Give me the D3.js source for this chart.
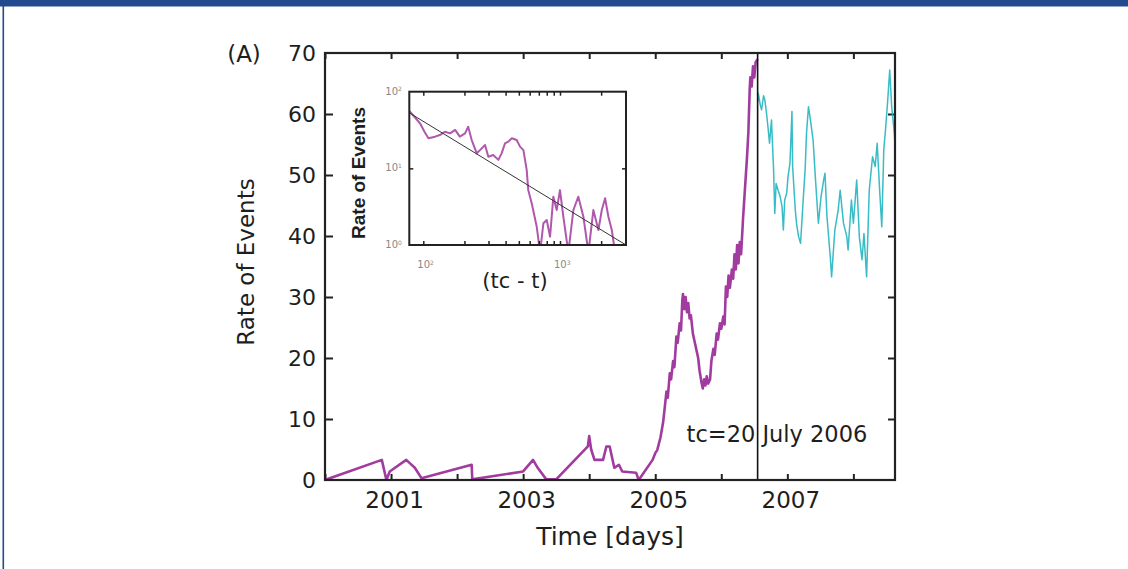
<!DOCTYPE html>
<html>
<head>
<meta charset="utf-8">
<script src="https://cdn.jsdelivr.net/npm/d3@7"></script>
<style>
  body { margin: 0; background: #fff; }
  svg text { font-family: "DejaVu Sans", sans-serif; fill: #1e1e1e; }
</style>
</head>
<body>
<div id="vis"></div>
<script>
/* data */
// main panel: [year, rate of events]
var beforeTc = [
  [2000.00, 0], [2000.86, 3.3], [2000.93, 0], [2000.98, 1.4], [2001.23, 3.3], [2001.30, 2.6],
  [2001.36, 2.0], [2001.46, 0.3], [2002.22, 2.5], [2002.23, 0.1], [2003.00, 1.4], [2003.15, 3.3],
  [2003.22, 2.0], [2003.35, 0.1], [2003.50, 0.1], [2003.98, 5.5], [2004.00, 7.2], [2004.03, 5.0],
  [2004.08, 3.3], [2004.21, 3.3], [2004.26, 5.5], [2004.31, 5.5], [2004.38, 2.0], [2004.45, 2.5],
  [2004.50, 1.4], [2004.71, 1.2], [2004.75, 0], [2004.96, 3.3], [2005.00, 4.4], [2005.03, 4.9],
  [2005.08, 7.0], [2005.12, 9.5], [2005.15, 12.5], [2005.17, 14.5], [2005.19, 13.5], [2005.22, 17.5],
  [2005.24, 16.5], [2005.27, 19.5], [2005.29, 18.5], [2005.32, 23.5], [2005.34, 22.5], [2005.37, 25.7],
  [2005.39, 24.5], [2005.41, 29.5], [2005.42, 30.5], [2005.44, 28.0], [2005.46, 30.0], [2005.48, 27.5],
  [2005.50, 29.0], [2005.52, 26.5], [2005.54, 27.0], [2005.57, 24.0], [2005.60, 22.5], [2005.62, 21.5],
  [2005.65, 20.0], [2005.67, 18.0], [2005.70, 16.0], [2005.72, 15.0], [2005.74, 16.5], [2005.76, 15.5],
  [2005.78, 17.0], [2005.80, 15.8], [2005.83, 16.5], [2005.85, 19.5], [2005.88, 21.5], [2005.90, 20.5],
  [2005.93, 24.0], [2005.95, 23.0], [2005.98, 25.7], [2006.00, 24.8], [2006.03, 26.8], [2006.05, 25.5],
  [2006.07, 31.7], [2006.09, 30.0], [2006.11, 33.5], [2006.13, 31.5], [2006.16, 34.5], [2006.18, 33.0],
  [2006.20, 37.0], [2006.22, 34.5], [2006.24, 38.5], [2006.26, 35.5], [2006.28, 39.0], [2006.30, 37.0],
  [2006.33, 43.0], [2006.36, 48.0], [2006.39, 53.0], [2006.41, 57.0], [2006.43, 64.0], [2006.44, 66.0],
  [2006.46, 64.5], [2006.48, 67.8], [2006.50, 66.0], [2006.52, 68.5], [2006.55, 69.0]
];
var afterTc = [
  [2006.55, 62.0], [2006.56, 63.4], [2006.59, 61.5], [2006.61, 60.7], [2006.64, 63.0], [2006.66, 62.3],
  [2006.69, 59.6], [2006.71, 57.5], [2006.73, 55.2], [2006.76, 59.0], [2006.79, 51.4], [2006.81, 43.7],
  [2006.83, 48.6], [2006.86, 47.5], [2006.89, 46.5], [2006.92, 44.8], [2006.94, 41.0], [2006.96, 45.9],
  [2006.99, 47.0], [2007.01, 49.7], [2007.04, 52.0], [2007.07, 60.4], [2007.08, 51.4], [2007.12, 44.3],
  [2007.14, 42.0], [2007.17, 39.9], [2007.20, 38.8], [2007.24, 45.9], [2007.27, 51.0], [2007.29, 56.8],
  [2007.32, 61.2], [2007.35, 59.0], [2007.39, 55.7], [2007.43, 48.6], [2007.47, 42.1], [2007.51, 46.4],
  [2007.55, 49.2], [2007.57, 50.3], [2007.60, 43.2], [2007.65, 36.6], [2007.67, 33.3], [2007.70, 38.0],
  [2007.72, 41.0], [2007.77, 44.3], [2007.80, 47.5], [2007.85, 42.1], [2007.90, 39.9], [2007.92, 37.7],
  [2007.97, 45.9], [2008.00, 42.1], [2008.05, 49.2], [2008.09, 39.9], [2008.13, 36.1], [2008.16, 40.4],
  [2008.20, 33.3], [2008.24, 47.5], [2008.29, 53.0], [2008.33, 51.4], [2008.36, 55.2], [2008.40, 47.0],
  [2008.43, 41.5], [2008.46, 54.1], [2008.49, 57.9], [2008.52, 62.3], [2008.55, 67.2], [2008.58, 61.2],
  [2008.62, 56.8], [2008.63, 55.0]
];
var tcYear = 2006.55;
var yearTicks = [2000, 2001, 2002, 2003, 2004, 2005, 2006, 2007, 2008];
var rateTicks = [0, 10, 20, 30, 40, 50, 60, 70];

// inset: [tc - t (days), rate]
var insetSeries = [
  [79, 56], [82, 52], [88, 45], [94.6, 38.7], [102, 30], [109, 24.7], [122, 25.9], [132, 27.2],
  [144, 30], [157, 28.6], [171, 31.7], [185, 25.9], [202, 28.6], [213, 34.9], [226, 23.4],
  [246, 15.7], [260, 17.3], [283, 20.2], [299, 14.2], [325, 14.9], [354, 12.9], [374, 15.7],
  [396, 21.2], [419, 22.3], [444, 24.7], [482, 23.4], [510, 19.2], [540, 17.3], [571, 9.5],
  [586, 5.2], [621, 3.5], [676, 1.73], [715, 0.8], [756, 1.92], [800, 2.12], [846, 1.28],
  [894, 4.27], [946, 2.86], [1000, 5.2], [1058, 2.34], [1151, 0.8], [1253, 2.86], [1362, 4.27],
  [1483, 2.34], [1614, 0.8], [1754, 2.86], [1910, 1.57], [2022, 2.86], [2138, 4.07], [2260, 2.34],
  [2393, 1.57], [2530, 0.8]
];
var insetFit = [[79, 53], [3040, 1]];
var insetXTicks = [100, 200, 300, 400, 500, 600, 700, 800, 900, 1000, 2000, 3000];
var insetXLabels = [[100, "2"], [1000, "3"]];
var insetYLabels = [[100, "2"], [10, "1"], [1, "0"]];

/* Set up */
var W = 1128, H = 569;
var plot = {left: 325, right: 895, top: 53, bottom: 480};
var box = {left: 409.3, right: 626, top: 91.7, bottom: 245};
var purple = "#a23b9f", cyan = "#22b5bf", ink = "#222";

var svg = d3.select("#vis").append("svg").attr("width", W).attr("height", H);

// blue page frame
svg.append("rect").attr("x", 0).attr("y", 0).attr("width", W).attr("height", 6.5).attr("fill", "#234a8f");
svg.append("rect").attr("x", 2.5).attr("y", 0).attr("width", 1.6).attr("height", H).attr("fill", "#234a8f");

/* Scales */
var x = d3.scaleLinear().domain([2000, 2008.63]).range([plot.left, plot.right]);
var y = d3.scaleLinear().domain([0, 70]).range([plot.bottom, plot.top]);

var defs = svg.append("defs");
defs.append("clipPath").attr("id", "clipMain").append("rect")
    .attr("x", plot.left).attr("y", plot.top)
    .attr("width", plot.right - plot.left).attr("height", plot.bottom - plot.top);
defs.append("clipPath").attr("id", "clipInset").append("rect")
    .attr("x", box.left).attr("y", box.top)
    .attr("width", box.right - box.left).attr("height", box.bottom - box.top);

/* Axes */
function styleAxis(g) {
    g.select(".domain").remove();
    g.selectAll(".tick line").attr("stroke", ink).attr("stroke-width", 2);
    g.selectAll(".tick text").attr("fill", ink).style("font-family", "DejaVu Sans, sans-serif");
}
var fmtYear = function (d) { return d % 2 === 1 ? d : ""; };

svg.append("g").attr("transform", "translate(0," + plot.bottom + ")")
    .call(d3.axisBottom(x).tickValues(yearTicks).tickFormat(fmtYear).tickSize(-6).tickPadding(11.5))
    .call(styleAxis)
    .selectAll("text").style("font-size", "23px").attr("dx", "3");
svg.append("g").attr("transform", "translate(0," + plot.top + ")")
    .call(d3.axisTop(x).tickValues(yearTicks).tickFormat("").tickSize(-6))
    .call(styleAxis);
svg.append("g").attr("transform", "translate(" + plot.left + ",0)")
    .call(d3.axisLeft(y).tickValues(rateTicks.slice(1, 7)).tickFormat("").tickSize(-8))
    .call(styleAxis);
svg.append("g").attr("transform", "translate(" + plot.left + ",0)")
    .call(d3.axisLeft(y).tickValues(rateTicks).tickSize(0).tickPadding(9))
    .call(styleAxis)
    .selectAll("text").style("font-size", "22px");
svg.append("g").attr("transform", "translate(" + plot.right + ",0)")
    .call(d3.axisRight(y).tickValues(rateTicks.slice(1, 7)).tickFormat("").tickSize(-7))
    .call(styleAxis);

/* Series */
var line = d3.line().x(function (d) { return x(d[0]); }).y(function (d) { return y(d[1]); });

var gLines = svg.append("g").attr("clip-path", "url(#clipMain)");
gLines.append("path").datum(afterTc).attr("d", line)
    .attr("fill", "none").attr("stroke", cyan).attr("stroke-width", 1.5)
    .attr("stroke-opacity", 0.9).attr("stroke-linejoin", "round");
gLines.append("path").datum(beforeTc).attr("d", line)
    .attr("fill", "none").attr("stroke", purple).attr("stroke-width", 2.6)
    .attr("stroke-linejoin", "round");

// critical time
svg.append("line").attr("x1", x(tcYear)).attr("x2", x(tcYear))
    .attr("y1", plot.top).attr("y2", plot.bottom)
    .attr("stroke", "#111").attr("stroke-width", 1.6);

// frame
svg.append("rect").attr("x", plot.left).attr("y", plot.top)
    .attr("width", plot.right - plot.left).attr("height", plot.bottom - plot.top)
    .attr("fill", "none").attr("stroke", ink).attr("stroke-width", 2.2);

/* Labels */
svg.append("text").attr("x", x(tcYear) - 71).attr("y", 442)
    .style("font-size", "22.5px").text("tc=20 July 2006");
svg.append("text").attr("x", 610).attr("y", 545).attr("text-anchor", "middle")
    .style("font-size", "25px").text("Time [days]");
svg.append("text").attr("transform", "translate(254,262) rotate(-90)").attr("text-anchor", "middle")
    .style("font-size", "23px").text("Rate of Events");
svg.append("text").attr("x", 244).attr("y", 62).attr("text-anchor", "middle")
    .style("font-size", "23px").text("(A)");

/* Inset */
var ix = d3.scaleLog().domain([79, 3040]).range([box.left, box.right]);
var iy = d3.scaleLog().domain([1, 100]).range([box.bottom, box.top]);
var iline = d3.line().x(function (d) { return ix(d[0]); }).y(function (d) { return iy(d[1]); });

var inset = svg.append("g").attr("class", "inset");
inset.append("rect").attr("x", box.left).attr("y", box.top)
    .attr("width", box.right - box.left).attr("height", box.bottom - box.top).attr("fill", "#fff");

var gInset = inset.append("g").attr("clip-path", "url(#clipInset)");
gInset.append("path").datum(insetSeries).attr("d", iline)
    .attr("fill", "none").attr("stroke", purple).attr("stroke-width", 2).attr("stroke-opacity", 0.85)
    .attr("stroke-linejoin", "round");
gInset.append("path").datum(insetFit).attr("d", iline)
    .attr("fill", "none").attr("stroke", "#333").attr("stroke-width", 1);

function styleInset(g) {
    g.select(".domain").remove();
    g.selectAll(".tick line").attr("stroke", ink).attr("stroke-width", 1.5);
}
inset.append("g").attr("transform", "translate(0," + box.top + ")")
    .call(d3.axisTop(ix).tickValues(insetXTicks).tickFormat("").tickSize(-4)).call(styleInset);
inset.append("g").attr("transform", "translate(0," + box.bottom + ")")
    .call(d3.axisBottom(ix).tickValues(insetXTicks).tickFormat("").tickSize(-4)).call(styleInset);
inset.append("g").attr("transform", "translate(" + box.left + ",0)")
    .call(d3.axisLeft(iy).tickValues([10]).tickFormat("").tickSize(-4)).call(styleInset);
inset.append("g").attr("transform", "translate(" + box.right + ",0)")
    .call(d3.axisRight(iy).tickValues([10]).tickFormat("").tickSize(-4)).call(styleInset);

inset.append("rect").attr("x", box.left).attr("y", box.top)
    .attr("width", box.right - box.left).attr("height", box.bottom - box.top)
    .attr("fill", "none").attr("stroke", ink).attr("stroke-width", 2);

// inset tick labels, 10 with a superscript
function powerLabel(sel, exp) {
    sel.append("tspan").text("10");
    sel.append("tspan").attr("dy", "-0.55em").style("font-size", "6px").text(exp);
}
insetXLabels.forEach(function (d) {
    inset.append("text").attr("x", ix(d[0]) - 6).attr("y", box.bottom + 23)
        .style("font-size", "10px").style("fill", "#888")
        .call(powerLabel, d[1]);
});
insetYLabels.forEach(function (d) {
    inset.append("text").attr("x", box.left - 24).attr("y", iy(d[0]) + 3)
        .style("font-size", "10px").style("fill", "#888")
        .call(powerLabel, d[1]);
});

inset.append("text").attr("transform", "translate(365,173) rotate(-90)").attr("text-anchor", "middle")
    .style("font-family", "Liberation Sans, Arial, sans-serif").style("font-weight", "bold")
    .style("font-size", "19px").text("Rate of Events");
inset.append("text").attr("x", 515).attr("y", 288).attr("text-anchor", "middle")
    .style("font-size", "21px").text("(tc - t)");
</script>
</body>
</html>
